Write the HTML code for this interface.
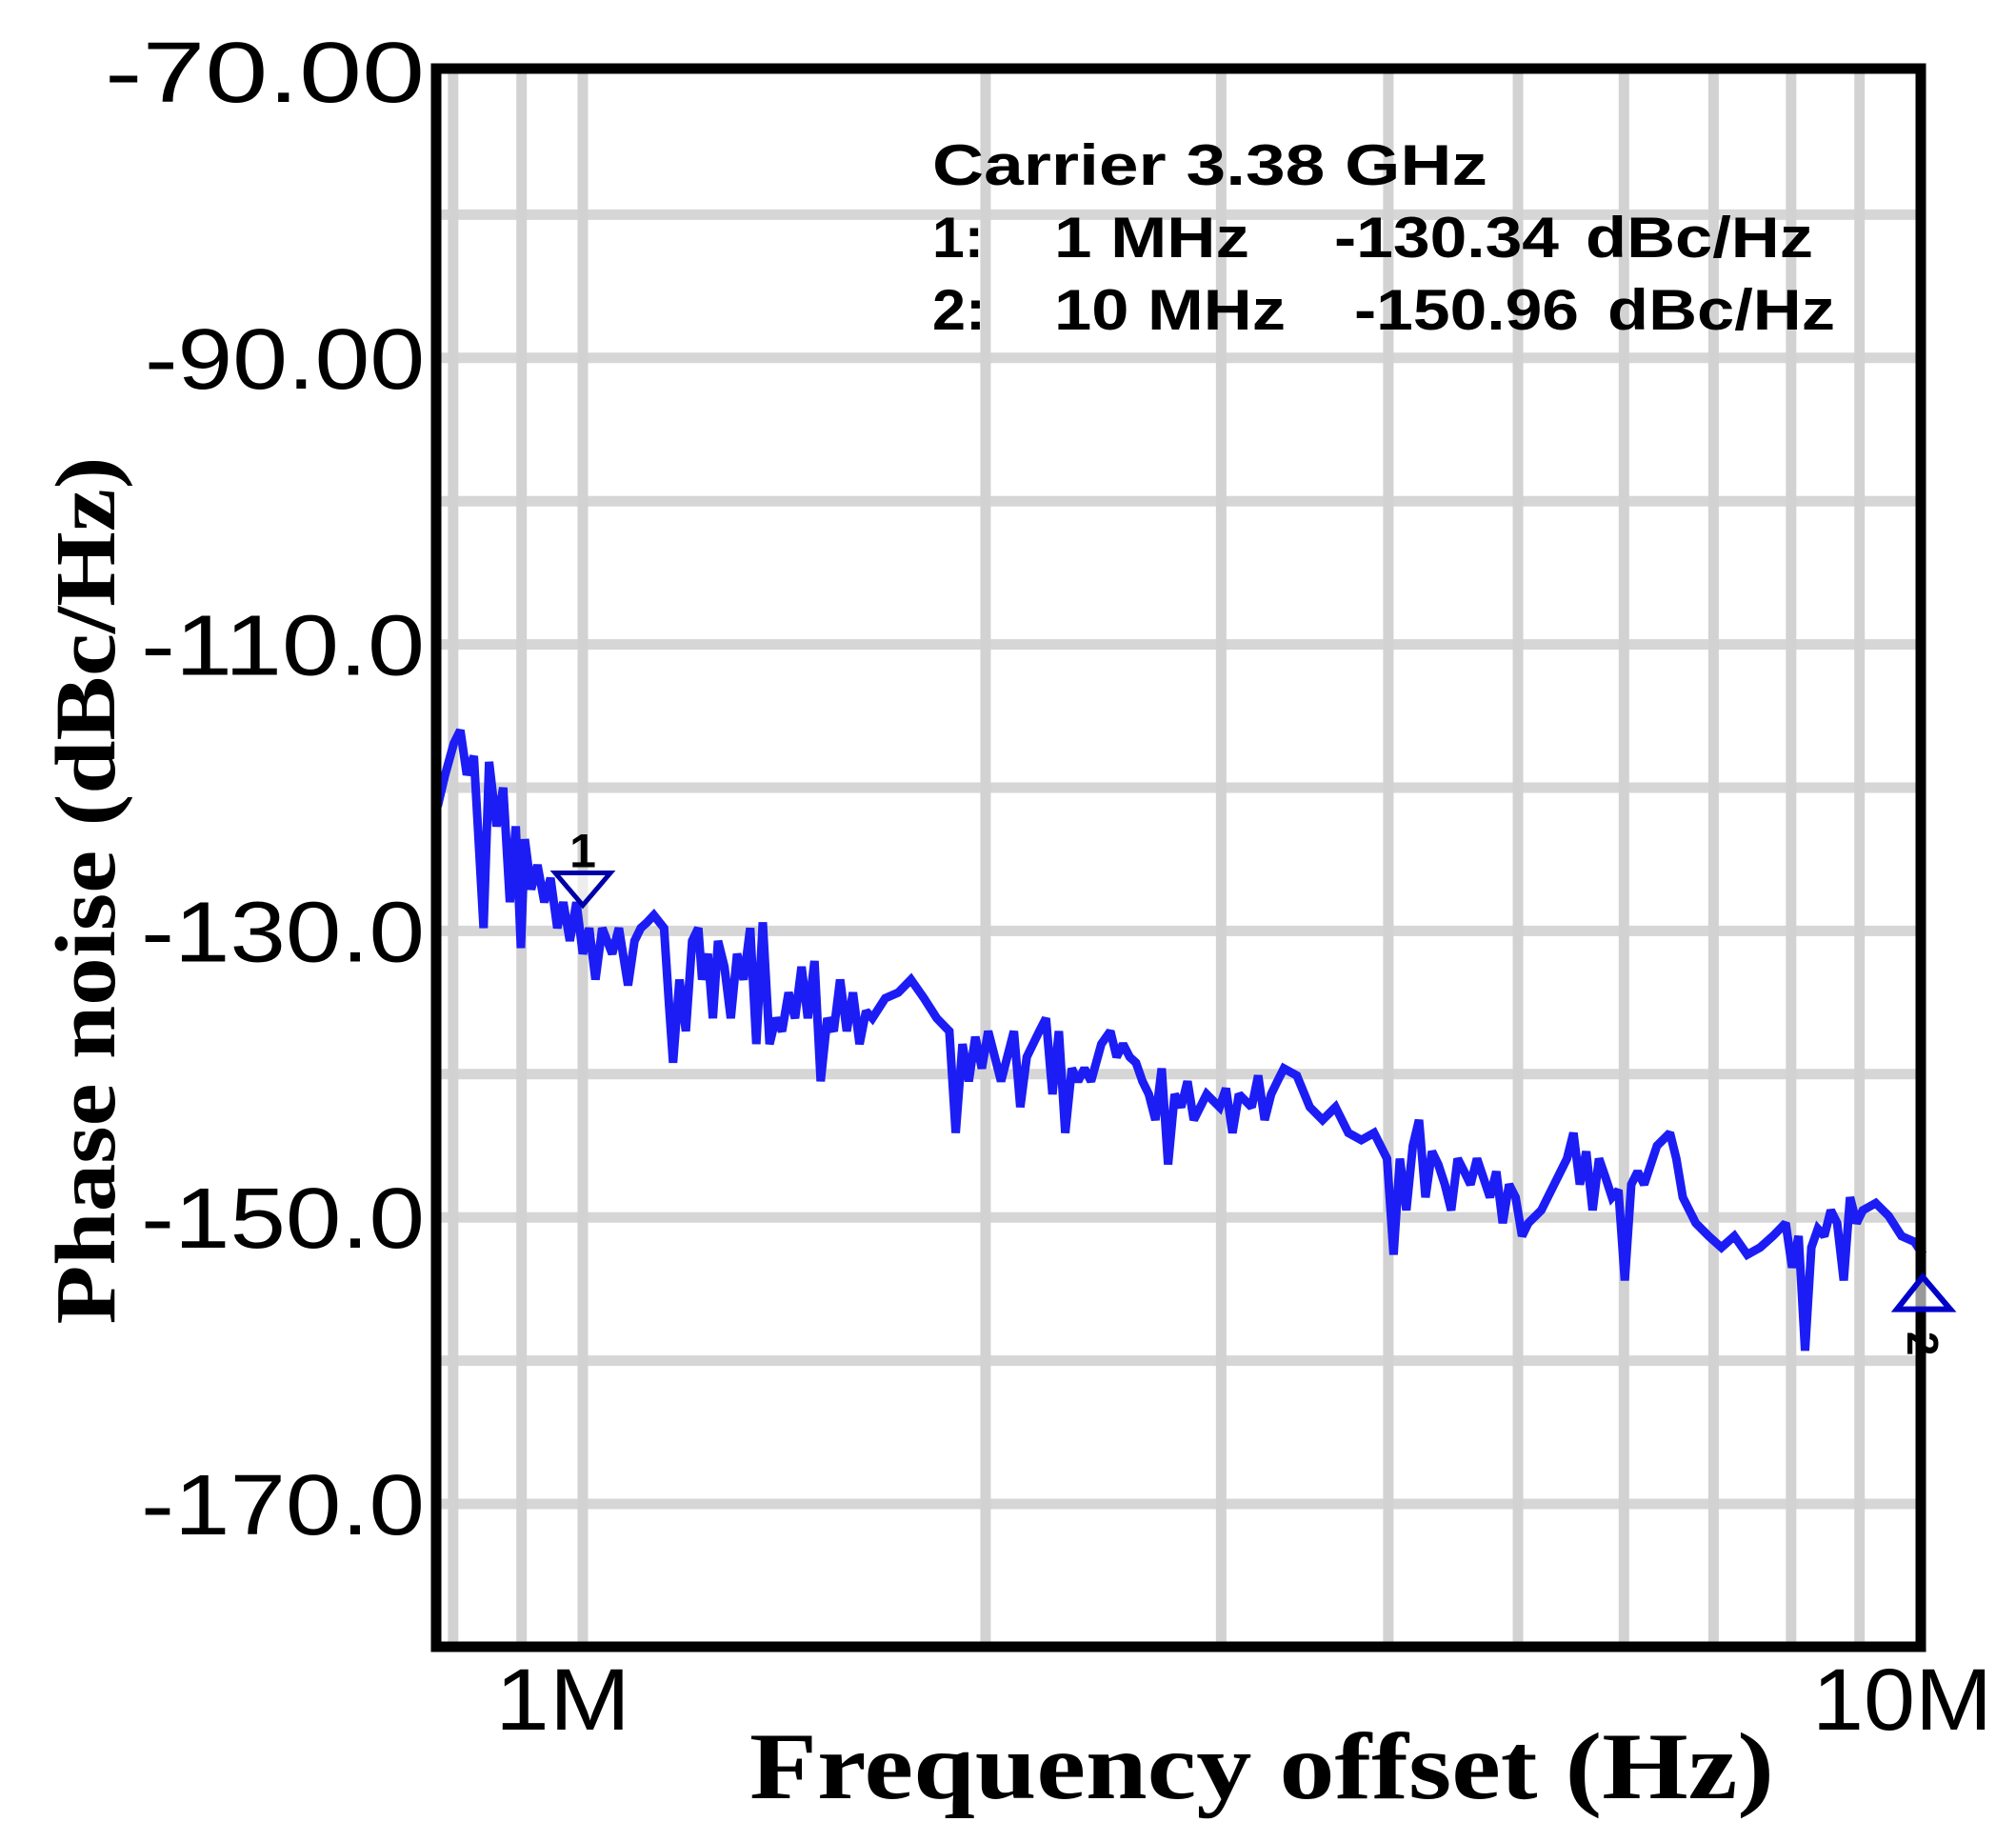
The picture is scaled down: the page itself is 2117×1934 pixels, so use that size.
<!DOCTYPE html>
<html><head><meta charset="utf-8"><style>
html,body{margin:0;padding:0;background:#fff;}
svg{display:block;}
</style></head><body>
<svg id="chart" width="2117" height="1934" viewBox="0 0 2117 1934" xmlns="http://www.w3.org/2000/svg">
<rect x="0" y="0" width="2117" height="1934" fill="#fff"/>
<g id="grid"></g>
<g id="trace"></g>
<rect x="458" y="72" width="1559" height="1657" fill="none" stroke="#000" stroke-width="11"/>
<g id="yticks" font-family="Liberation Sans, sans-serif" font-size="90" fill="#000" text-anchor="end"></g>
<g id="xticks" font-family="Liberation Sans, sans-serif" font-size="92" fill="#000"></g>
<text x="0" y="0" transform="translate(120,935) rotate(-90)" text-anchor="middle" textLength="911" lengthAdjust="spacingAndGlyphs" font-family="Liberation Serif, serif" font-weight="bold" font-size="90">Phase noise (dBc/Hz)</text>
<text x="787" y="1888" textLength="1076" lengthAdjust="spacingAndGlyphs" font-family="Liberation Serif, serif" font-weight="bold" font-size="100">Frequency offset (Hz)</text>
<g font-family="Liberation Sans, sans-serif" font-weight="bold" font-size="60" fill="#000" lengthAdjust="spacingAndGlyphs">
<text x="979" y="194" textLength="583" lengthAdjust="spacingAndGlyphs">Carrier  3.38 GHz</text>
<text x="979" y="270" textLength="54" lengthAdjust="spacingAndGlyphs">1:</text>
<text x="1107" y="270" textLength="205" lengthAdjust="spacingAndGlyphs">1 MHz</text>
<text x="1401" y="270" textLength="236" lengthAdjust="spacingAndGlyphs">-130.34</text>
<text x="1665" y="270" textLength="239" lengthAdjust="spacingAndGlyphs">dBc/Hz</text>
<text x="979" y="346" textLength="56" lengthAdjust="spacingAndGlyphs">2:</text>
<text x="1107" y="346" textLength="243" lengthAdjust="spacingAndGlyphs">10 MHz</text>
<text x="1422" y="346" textLength="236" lengthAdjust="spacingAndGlyphs">-150.96</text>
<text x="1688" y="346" textLength="239" lengthAdjust="spacingAndGlyphs">dBc/Hz</text>
</g>
<g id="markers"></g>
</svg>
<script>
const freqs = [0.779,0.789,0.801,0.810,0.819,0.829,0.843,0.851,0.862,0.872,0.882,0.891,0.899,0.905,0.915,0.925,0.936,0.946,0.957,0.967,0.978,0.989,1.000,1.011,1.022,1.034,1.052,1.064,1.081,1.093,1.105,1.117,1.130,1.150,1.160,1.168,1.181,1.194,1.207,1.220,1.228,1.240,1.251,1.262,1.276,1.290,1.304,1.319,1.334,1.348,1.363,1.379,1.394,1.409,1.425,1.441,1.457,1.473,1.490,1.506,1.523,1.540,1.557,1.575,1.592,1.610,1.628,1.646,1.683,1.721,1.759,1.799,1.839,1.879,1.900,1.922,1.943,1.965,1.987,2.009,2.054,2.100,2.123,2.147,2.194,2.219,2.244,2.269,2.294,2.320,2.345,2.371,2.398,2.441,2.479,2.506,2.534,2.563,2.591,2.620,2.649,2.679,2.708,2.738,2.769,2.800,2.831,2.862,2.926,2.992,3.025,3.059,3.093,3.162,3.197,3.233,3.269,3.305,3.342,3.417,3.494,3.572,3.652,3.734,3.818,3.903,3.991,4.036,4.080,4.126,4.172,4.217,4.264,4.312,4.359,4.408,4.457,4.507,4.558,4.608,4.659,4.764,4.817,4.870,4.924,4.979,5.035,5.090,5.204,5.321,5.440,5.501,5.562,5.623,5.685,5.748,5.812,5.877,5.943,6.009,6.076,6.143,6.212,6.351,6.494,6.566,6.640,6.789,6.942,7.096,7.255,7.418,7.585,7.754,7.925,8.014,8.104,8.194,8.284,8.377,8.471,8.565,8.660,8.758,8.854,8.954,9.052,9.254,9.462,9.674,9.890,10.04];
const noise = [-121.3,-119.1,-116.9,-116.0,-119.1,-117.8,-129.8,-118.2,-122.7,-120.0,-128.0,-122.7,-131.2,-123.6,-127.1,-125.4,-128.0,-126.3,-129.8,-128.0,-130.7,-128.0,-131.6,-129.8,-133.4,-129.8,-131.6,-129.8,-133.8,-130.7,-129.8,-129.4,-128.9,-129.8,-135.2,-139.2,-133.4,-137.0,-130.7,-129.8,-133.4,-131.6,-136.1,-130.7,-132.5,-136.1,-131.6,-133.4,-129.8,-137.9,-129.4,-137.9,-136.1,-137.0,-134.3,-136.1,-132.5,-136.1,-132.1,-140.5,-136.1,-137.0,-133.4,-137.0,-134.3,-137.9,-135.6,-136.1,-134.7,-134.3,-133.4,-134.7,-136.1,-137.0,-144.1,-137.9,-140.5,-137.4,-139.6,-137.0,-140.5,-137.0,-142.3,-138.8,-137.0,-136.1,-141.4,-137.0,-144.1,-139.6,-140.5,-139.6,-140.5,-137.9,-137.0,-138.8,-137.9,-138.8,-139.2,-140.5,-141.4,-143.2,-139.6,-146.3,-141.4,-142.3,-140.5,-143.2,-141.4,-142.3,-141.0,-144.1,-141.4,-142.3,-140.1,-143.2,-141.4,-140.5,-139.6,-140.1,-142.3,-143.2,-142.3,-144.1,-144.6,-144.1,-145.9,-152.6,-145.9,-149.5,-145.0,-143.2,-148.6,-145.4,-146.3,-147.7,-149.5,-145.9,-146.8,-147.7,-145.9,-148.6,-146.8,-150.4,-147.7,-148.6,-151.3,-150.4,-149.5,-147.7,-145.9,-144.1,-147.7,-145.4,-149.5,-145.9,-147.2,-148.6,-148.1,-154.4,-147.7,-146.8,-147.7,-145.0,-144.1,-145.9,-148.6,-150.4,-151.3,-152.1,-151.3,-152.6,-152.1,-151.3,-150.4,-153.5,-151.3,-159.3,-152.1,-150.8,-151.3,-149.5,-150.4,-154.4,-148.6,-150.4,-149.5,-149.0,-149.9,-151.3,-151.7,-152.6];
const yTicks = [-70,-90,-110,-130,-150,-170];
const yTickLabels = ["-70.00","-90.00","-110.0","-130.0","-150.0","-170.0"];
const yGrid = [-80,-90,-100,-110,-120,-130,-140,-150,-160,-170];
const xGrid = [0.8,0.9,1,2,3,4,5,6,7,8,9,10];
const xTicks = [1,10];
const xTickLabels = ["1M","10M"];
const markerFreqs = [1,10];
const markerValues = [-130.34,-150.96];

const NS = "http://www.w3.org/2000/svg";
const X0 = 612, DEC = 1405, Y0 = 75, PERDB = 15.04;
function xs(f){ return X0 + Math.log10(f) * DEC; }
function ys(v){ return Y0 + (-70 - v) * PERDB; }
function mk(tag, attrs, parent){ const e = document.createElementNS(NS, tag); for (const k in attrs) e.setAttribute(k, attrs[k]); parent.appendChild(e); return e; }

const grid = document.getElementById('grid');
yGrid.forEach(v => {
  const l = mk('line', {x1:458, x2:2017, y1:ys(v), y2:ys(v), stroke:'#d6d6d6', 'stroke-width':11}, grid);
  
  
});
xGrid.forEach(f => {
  const l = mk('line', {x1:xs(f), x2:xs(f), y1:72, y2:1729, stroke:'#d2d2d2', 'stroke-width':11}, grid);
  
  
});

const yt = document.getElementById('yticks');
yTicks.forEach((v, i) => {
  const t = mk('text', {x:446, y:ys(v) + 32, textLength:(i === 0 ? 336 : (i === 1 ? 294 : 298)), lengthAdjust:'spacingAndGlyphs'}, yt);
  t.textContent = yTickLabels[i];
  
  
});
const xt = document.getElementById('xticks');
xTicks.forEach((f, i) => {
  const w = i === 0 ? 142 : 189;
  const t = mk('text', {x:xs(f) - (i === 0 ? 92 : 114), y:1816, textLength:w, lengthAdjust:'spacingAndGlyphs'}, xt);
  t.textContent = xTickLabels[i];
  
  
});

const tr = document.getElementById('trace');
const pts = freqs.map((f, i) => xs(f).toFixed(1) + ',' + ys(noise[i]).toFixed(1)).join(' ');
const pl = mk('polyline', {points:pts, fill:'none', stroke:'#1c1cf5', 'stroke-width':9, 'stroke-linejoin':'miter', 'stroke-miterlimit':2}, tr);



const mg = document.getElementById('markers');
{
  const cx = xs(markerFreqs[0]), cy = ys(markerValues[0]);
  const tri = mk('polygon', {points:(cx-29)+','+(cy-66)+' '+(cx+29)+','+(cy-66)+' '+cx+','+(cy-32), fill:'#fff', 'fill-opacity':'0.6', stroke:'#0000a8', 'stroke-width':5}, mg);
  
  
  const lab = mk('text', {x:cx, y:cy-72, 'text-anchor':'middle', 'font-family':'Liberation Sans, sans-serif', 'font-weight':'bold', 'font-size':'50'}, mg);
  lab.textContent = '1';
  
  
}
{
  const cx = xs(markerFreqs[1]) + 2, cy = ys(markerValues[1]);
  const tri = mk('polygon', {points:(cx-27)+','+(cy+82)+' '+(cx+29)+','+(cy+82)+' '+cx+','+(cy+48), fill:'#fff', 'fill-opacity':'0.6', stroke:'#0000c8', 'stroke-width':6}, mg);
  
  
  const lab = mk('text', {x:0, y:0, transform:'translate('+(cx-16)+','+(cy+118)+') rotate(90)', 'text-anchor':'middle', 'font-family':'Liberation Sans, sans-serif', 'font-weight':'bold', 'font-size':'46'}, mg);
  lab.textContent = '2';
  
  
}
</script>
</body></html>
